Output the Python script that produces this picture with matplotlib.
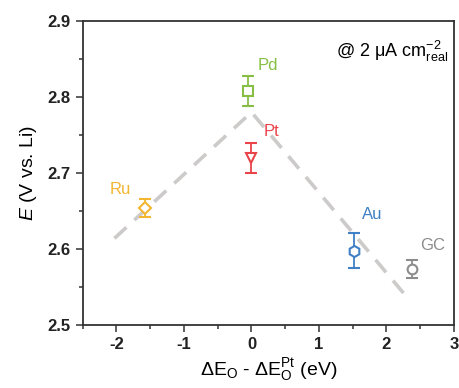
import matplotlib
matplotlib.use("Agg")
import matplotlib.pyplot as plt
from matplotlib.ticker import MultipleLocator

plt.rcParams['font.family'] = ['Liberation Sans', 'DejaVu Sans']
plt.rcParams['mathtext.fontset'] = 'custom'
plt.rcParams['mathtext.rm'] = 'Liberation Sans'
plt.rcParams['mathtext.it'] = 'Liberation Sans:italic'
plt.rcParams['mathtext.bf'] = 'Liberation Sans:bold'

# data
metals = ['Ru', 'Pd', 'Pt', 'Au', 'GC']
dE = [-1.57, -0.05, 0.0, 1.52, 2.38]
E = [2.654, 2.808, 2.720, 2.598, 2.574]
err = [0.012, 0.02, 0.02, 0.023, 0.012]
markers = ['D', 's', 'v', 'h', 'o']
colors = ['#f2b631', '#86bf43', '#e8444a', '#3f80c6', '#8c8c8c']
label_x = [-1.95, 0.25, 0.3, 1.79, 2.69]
label_y = [2.678, 2.842, 2.755, 2.645, 2.604]
xticks = [-2, -1, 0, 1, 2, 3]
yticks = [2.5, 2.6, 2.7, 2.8, 2.9]

trend_x = [-2.03, 0.0, 2.28]
trend_y = [2.614, 2.78, 2.539]

fig = plt.figure(figsize=(4.6, 3.88), dpi=100)
ax = fig.add_axes([82.7/460, 1-325/388, (454-82.7)/460, (325-21)/388])

ax.plot(trend_x, trend_y, ls=(0, (4.5, 3)), color='#cdcaca', lw=2.6, zorder=1)

for m, x, y, e, mk, c, lx, ly in zip(metals, dE, E, err, markers, colors, label_x, label_y):
    ms = 7
    if mk == 'h':
        ms = 8
    if mk == 'D':
        ms = 6
    ax.errorbar(x, y, yerr=e, fmt=mk, mfc='white', mec=c, ecolor=c, mew=1.5,
                ms=ms, capsize=4, elinewidth=1.3, capthick=1.3, zorder=3)
    ax.text(lx, ly, m, color=c, fontsize=12, ha='center', va='center')

ax.text(0.985, 0.9, r'@ 2 $\mathrm{\mu}$A cm$^{-2}_{\mathrm{real}}$', transform=ax.transAxes,
        ha='right', va='center', fontsize=13)

ax.set_xlim(-2.5, 3)
ax.set_ylim(2.5, 2.9)
ax.xaxis.set_minor_locator(MultipleLocator(0.5))
ax.yaxis.set_minor_locator(MultipleLocator(0.05))
ax.set_yticks(yticks)
ax.set_yticklabels([f'{v:.1f}' for v in yticks], fontweight='bold')
ax.set_xticks(xticks)
ax.set_xticklabels([str(v) for v in xticks], fontweight='bold')
ax.tick_params(which='both', direction='out', labelsize=12, width=1.1, color='#333333',
               labelcolor='#222222')
ax.tick_params(which='major', length=5)
ax.tick_params(which='minor', length=3)
for s in ax.spines.values():
    s.set_linewidth(1.3)
    s.set_color('#333333')

ax.set_ylabel(r'$\mathit{E}$ (V vs. Li)', fontsize=14, labelpad=6)
ax.set_xlabel(r'$\Delta$E$_{\mathrm{O}}$ - $\Delta$E$_{\mathrm{O}}^{\mathrm{Pt}}$ (eV)', fontsize=14,
              labelpad=3)

fig.savefig('out.png', dpi=100)
